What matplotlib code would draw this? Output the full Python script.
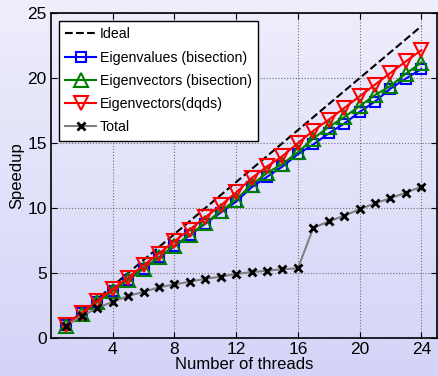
import matplotlib
matplotlib.use("Agg")
import matplotlib.pyplot as plt
import numpy as np
from matplotlib.colors import LinearSegmentedColormap

plt.rcParams["font.family"] = ["Liberation Sans", "DejaVu Sans"]

threads = list(range(1, 25))
ideal = [1, 24]
eig_bisect = [1.0, 1.9, 2.8, 3.65, 4.5, 5.35, 6.2, 7.05, 7.9, 8.8, 9.65, 10.5,
              11.6, 12.4, 13.2, 14.15, 14.9, 15.75, 16.5, 17.4, 18.2, 19.2, 19.97, 20.7]
vec_bisect = [0.95, 1.85, 2.75, 3.6, 4.45, 5.35, 6.2, 7.1, 7.95, 8.85, 9.75, 10.65,
              11.8, 12.7, 13.4, 14.3, 15.35, 16.25, 17.0, 17.85, 18.7, 19.4, 20.35, 21.2]
vec_dqds = [1.0, 1.95, 2.85, 3.75, 4.65, 5.6, 6.5, 7.45, 8.35, 9.3, 10.2, 11.2,
            12.3, 13.2, 14.0, 15.0, 15.95, 16.8, 17.7, 18.6, 19.5, 20.4, 21.3, 22.15]
total = [0.95, 1.7, 2.3, 2.8, 3.23, 3.56, 3.9, 4.13, 4.33, 4.56, 4.72, 4.92,
         5.08, 5.18, 5.3, 5.36, 8.48, 8.97, 9.41, 9.92, 10.36, 10.77, 11.18, 11.65]

xticks = [4, 8, 12, 16, 20, 24]
yticks = [0, 5, 10, 15, 20, 25]

fig = plt.figure(figsize=(4.39, 3.76), dpi=100)

# soft lavender gradient behind everything
bg = fig.add_axes([0, 0, 1, 1], zorder=-1)
cmap = LinearSegmentedColormap.from_list("lav", ["#d4d4f8", "#eeeefc"])
bg.imshow(np.linspace(0, 1, 256).reshape(-1, 1), aspect="auto", cmap=cmap,
          origin="lower", extent=[0, 1, 0, 1])
bg.axis("off")

ax = fig.add_axes([0.116, 0.101, 0.879, 0.864])
ax.patch.set_alpha(0)

ax.plot(ideal, ideal, "k--", lw=1.5, label="Ideal")
ax.plot(threads, eig_bisect, "-s", color="blue", lw=1.5, ms=7, mfc="none",
        mew=1.5, label="Eigenvalues (bisection)")
ax.plot(threads, vec_bisect, "-^", color="green", lw=1.5, ms=9.5, mfc="none",
        mew=1.5, label="Eigenvectors (bisection)")
ax.plot(threads, vec_dqds, "-v", color="red", lw=1.5, ms=9.5, mfc="none",
        mew=1.5, label="Eigenvectors(dqds)")
ax.plot(threads, total, "-x", color="#808080", lw=1.5, ms=6, mec="black",
        mew=2, label="Total")

ax.set_xlim(0, 25)
ax.set_ylim(0, 25)
ax.set_xticks(xticks)
ax.set_yticks(yticks)
ax.tick_params(direction="in", top=True, right=True, labelsize=12.5, length=4, pad=3)
ax.grid(True, linestyle=":", color="#707070", lw=0.8)
for s in ax.spines.values():
    s.set_linewidth(1.2)

ax.set_xlabel("Number of threads", fontsize=12, labelpad=0)
ax.set_ylabel("Speedup", fontsize=12, labelpad=2)

leg = ax.legend(loc="upper left", fontsize=10.2, fancybox=False, framealpha=1,
                edgecolor="black", borderaxespad=0.55, handlelength=2.2,
                handletextpad=0.25, labelspacing=0.65, borderpad=0.45)
leg.get_frame().set_linewidth(1.0)

fig.savefig("out.png", dpi=100)
